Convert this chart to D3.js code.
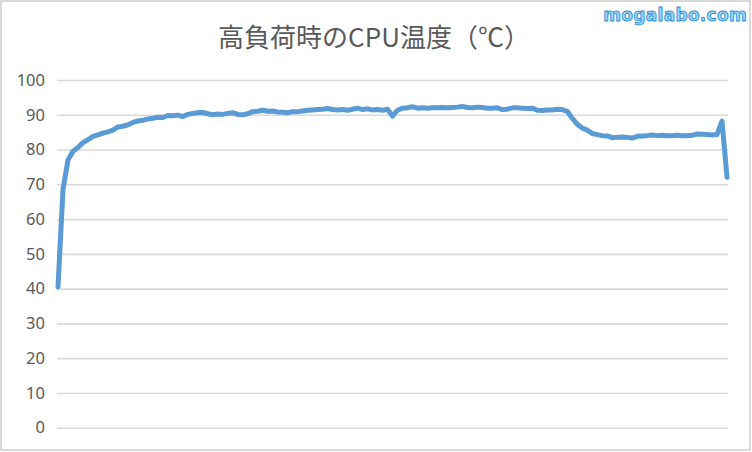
<!DOCTYPE html>
<html>
<head>
<meta charset="utf-8">
<script src="https://cdn.jsdelivr.net/npm/d3@7"></script>
<style>
  html, body { margin: 0; padding: 0; background: #fff; }
  svg { display: block; }
</style>
</head>
<body>
<div id="graph"></div>
<script>
// constants for graphing
var width = 752,
    height = 452,
    title = "高負荷時のCPU温度（℃）",
    watermark = "mogalabo.com";

// y axis ticks
var y_ticks = [0, 10, 20, 30, 40, 50, 60, 70, 80, 90, 100];

// CPU temperature, one sample per step
var temps = [
    40.5, 68.5, 77.0, 79.5, 80.6, 82.0, 82.8, 83.8, 84.2, 84.7,
    85.1, 85.6, 86.5, 86.7, 87.1, 87.8, 88.2, 88.4, 88.8, 89.0,
    89.3, 89.2, 89.8, 89.7, 89.9, 89.5, 90.1, 90.4, 90.6, 90.7,
    90.3, 90.0, 90.2, 90.1, 90.4, 90.6, 90.1, 90.0, 90.3, 90.9,
    91.0, 91.3, 91.0, 91.1, 90.8, 90.7, 90.6, 90.9, 90.9, 91.1,
    91.3, 91.4, 91.5, 91.6, 91.8, 91.5, 91.4, 91.5, 91.3, 91.6,
    91.9, 91.5, 91.7, 91.4, 91.5, 91.3, 91.6, 89.6, 91.3, 91.9,
    92.0, 92.3, 91.9, 92.0, 91.9, 92.0, 92.0, 92.1, 92.0, 92.1,
    92.2, 92.4, 92.1, 92.0, 92.2, 92.1, 91.9, 91.9, 92.0, 91.5,
    91.6, 92.0, 92.0, 91.9, 91.8, 91.9, 91.3, 91.2, 91.4, 91.4,
    91.6, 91.5, 91.0, 89.0, 87.3, 86.2, 85.6, 84.6, 84.3, 84.0,
    83.9, 83.4, 83.5, 83.6, 83.5, 83.3, 83.8, 83.9, 84.0, 84.2,
    84.0, 84.1, 84.0, 84.0, 84.1, 84.0, 84.0, 84.1, 84.5, 84.4,
    84.3, 84.2, 84.3, 88.2, 72.0
];

var margin = { left: 57, right: 24, top: 80, bottom: 24.3 };

var svg = d3.select("#graph")
  .append("svg")
    .attr("width", width)
    .attr("height", height);

svg.append("rect")
    .attr("x", 0).attr("y", 0)
    .attr("width", width).attr("height", height)
    .attr("fill", "#fff");

// outer frame
svg.append("rect")
    .attr("x", 1).attr("y", 1)
    .attr("width", 749).attr("height", 449)
    .attr("fill", "none")
    .attr("stroke", "#d9d9d9")
    .attr("stroke-width", 2);

var x = d3.scaleLinear()
    .domain([0, temps.length - 1])
    .range([58, 727]);

var y = d3.scaleLinear()
    .domain([0, 100])
    .range([height - margin.bottom, margin.top]);

// grid lines + tick labels
var yAxis = d3.axisLeft(y)
    .tickValues(y_ticks)
    .tickSize(-(728 - margin.left))
    .tickPadding(12);

var g = svg.append("g")
    .attr("transform", "translate(" + margin.left + ",0)")
    .call(yAxis);
g.select(".domain").remove();
g.selectAll(".tick line")
    .attr("stroke", "#d9d9d9")
    .attr("stroke-width", 1.6);
g.selectAll(".tick text")
    .attr("fill", "#595959")
    .attr("font-family", "'Noto Sans', sans-serif")
    .attr("font-size", 16.5);

// the temperature line
var line = d3.line()
    .x(function(d, i) { return x(i); })
    .y(function(d) { return y(d); });

svg.append("path")
    .datum(temps)
    .attr("d", line)
    .attr("fill", "none")
    .attr("stroke", "#5b9bd5")
    .attr("stroke-width", 5)
    .attr("stroke-linejoin", "round")
    .attr("stroke-linecap", "round");

// title
svg.append("text")
    .attr("x", 374)
    .attr("y", 47)
    .attr("text-anchor", "middle")
    .attr("font-family", "'Noto Sans CJK JP', sans-serif")
    .attr("font-size", 26)
    .attr("fill", "#595959")
    .text(title);

// watermark
svg.append("text")
    .attr("x", 747)
    .attr("y", 21)
    .attr("text-anchor", "end")
    .attr("font-family", "'DejaVu Sans', sans-serif")
    .attr("font-weight", "bold")
    .attr("font-size", 17)
    .attr("letter-spacing", 0.3)
    .attr("fill", "#9dd6fa")
    .attr("stroke", "#2f8fd8")
    .attr("stroke-width", 0.9)
    .text(watermark);
</script>
</body>
</html>
